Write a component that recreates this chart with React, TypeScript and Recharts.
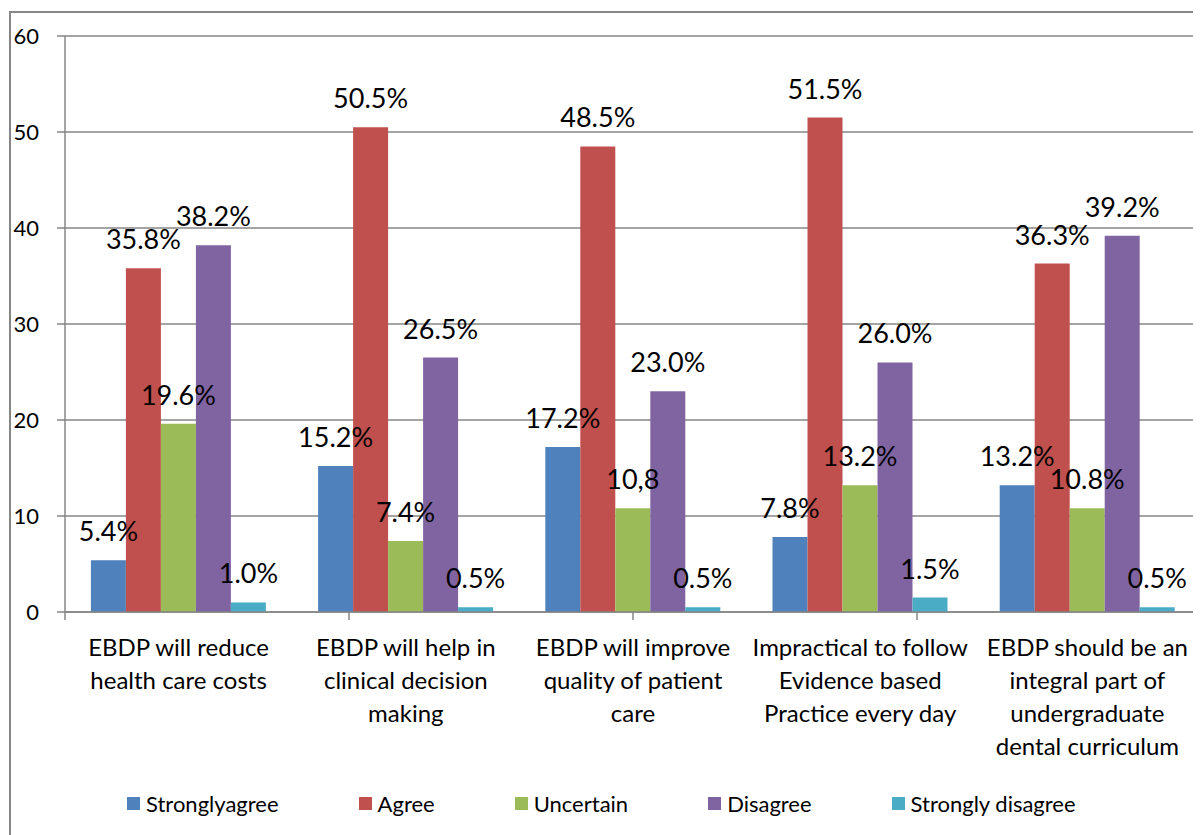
import { Bar, BarChart, CartesianGrid, LabelList, XAxis, YAxis } from "recharts";

const categories = [
  "EBDP will reduce|health care costs",
  "EBDP will help in|clinical decision|making",
  "EBDP will improve|quality of patient|care",
  "Impractical to follow|Evidence based|Practice every day",
  "EBDP should be an|integral part of|undergraduate|dental curriculum",
];

const stronglyAgree = [5.4, 15.2, 17.2, 7.8, 13.2];
const agree = [35.8, 50.5, 48.5, 51.5, 36.3];
const uncertain = [19.6, 7.4, 10.8, 13.2, 10.8];
const disagree = [38.2, 26.5, 23.0, 26.0, 39.2];
const stronglyDisagree = [1.0, 0.5, 0.5, 1.5, 0.5];

// the source writes one of the labels with a comma and no percent sign
const uncertainLabels = ["19.6%", "7.4%", "10,8", "13.2%", "10.8%"];

const yTicks = [0, 10, 20, 30, 40, 50, 60];

const series = [
  { key: "sa", name: "Stronglyagree", color: "#4F81BD" },
  { key: "a", name: "Agree", color: "#C0504D" },
  { key: "u", name: "Uncertain", color: "#9BBB59" },
  { key: "d", name: "Disagree", color: "#8064A2" },
  { key: "sd", name: "Strongly disagree", color: "#4BACC6" },
];

const data = categories.map((c, i) => ({
  cat: c,
  sa: stronglyAgree[i],
  a: agree[i],
  u: uncertain[i],
  d: disagree[i],
  sd: stronglyDisagree[i],
  saL: stronglyAgree[i].toFixed(1) + "%",
  aL: agree[i].toFixed(1) + "%",
  uL: uncertainLabels[i],
  dL: disagree[i].toFixed(1) + "%",
  sdL: stronglyDisagree[i].toFixed(1) + "%",
}));

const FONT = "Lato, 'Open Sans', sans-serif";
const GRID = "#868686";

function CatTick({ x, y, payload }: any) {
  const lines = String(payload.value).split("|");
  return (
    <text x={x} y={y + 43} textAnchor="middle" fontSize={24} fontFamily={FONT} fill="#000">
      {lines.map((l, i) => (
        <tspan key={i} x={x} dy={i === 0 ? 0 : 33}>
          {l}
        </tspan>
      ))}
    </text>
  );
}

function BarLabel({ x, y, width, value }: any) {
  return (
    <text x={x + width / 2} y={y - 19} textAnchor="middle" fontSize={27} fontFamily={FONT} fill="#000">
      {value}
    </text>
  );
}

export default function App() {
  return (
    <div style={{ position: "relative", width: 1193, height: 827, overflow: "hidden", background: "#fff" }}>
      <div
        style={{
          position: "absolute",
          left: 1,
          top: 3,
          width: 1300,
          height: 1000,
          border: `2px solid ${GRID}`,
          boxSizing: "border-box",
        }}
      />
      <div style={{ position: "absolute", left: 0, top: 0 }}>
        <BarChart
          width={1193}
          height={827}
          data={data}
          margin={{ top: 28, right: 0, bottom: 0, left: 0 }}
          barCategoryGap="11.4%"
          barGap={0}
        >
          <CartesianGrid vertical={false} stroke={GRID} strokeWidth={1.5} xAxisId="a_edge" />
          {/* thin number axis only for the tick marks between categories */}
          <XAxis
            xAxisId="a_edge"
            type="number"
            domain={[0, 5]}
            ticks={[0, 1, 2, 3, 4, 5]}
            height={1}
            tick={() => <g />}
            tickSize={8}
            axisLine={{ stroke: GRID, strokeWidth: 1.5 }}
            tickLine={{ stroke: GRID, strokeWidth: 1.5 }}
          />
          <XAxis
            xAxisId="b_cat"
            dataKey="cat"
            height={222}
            interval={0}
            axisLine={false}
            tickLine={false}
            tickSize={0}
            tickMargin={0}
            tick={<CatTick />}
          />
          <YAxis
            width={57}
            domain={[0, 60]}
            ticks={yTicks}
            interval={0}
            tickSize={8}
            tickMargin={18}
            axisLine={{ stroke: GRID, strokeWidth: 1.5 }}
            tickLine={{ stroke: GRID, strokeWidth: 1.5 }}
            tick={{ fontSize: 22, fontFamily: FONT, fill: "#000" }}
          />
          {series.map((s) => (
            <Bar
              key={s.key}
              xAxisId="b_cat"
              dataKey={s.key}
              name={s.name}
              fill={s.color}
              isAnimationActive={false}
            >
              <LabelList dataKey={s.key + "L"} content={<BarLabel />} />
            </Bar>
          ))}
        </BarChart>
      </div>
      <div
        style={{
          position: "absolute",
          left: 119,
          top: 782,
          display: "flex",
          gap: 80,
          fontFamily: FONT,
          fontSize: 22,
          color: "#000",
          alignItems: "center",
        }}
      >
        {series.map((s) => (
          <div key={s.key} style={{ display: "flex", alignItems: "center", gap: 6 }}>
            <span style={{ display: "inline-block", width: 13, height: 13, background: s.color }} />
            <span>{s.name}</span>
          </div>
        ))}
      </div>
    </div>
  );
}
